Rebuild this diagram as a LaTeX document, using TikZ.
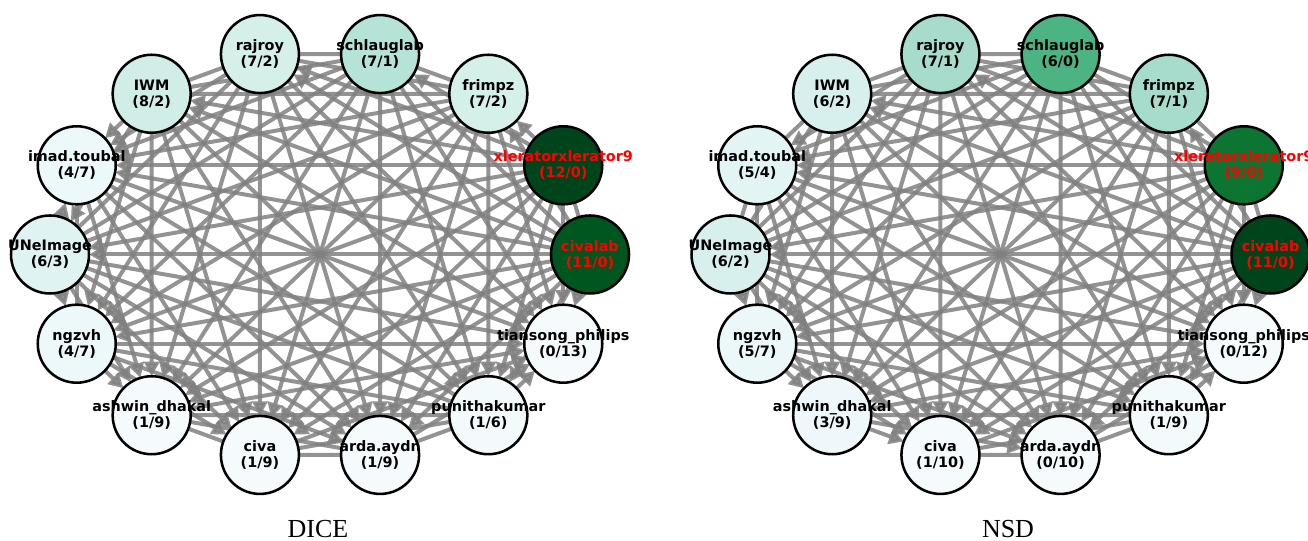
\documentclass[tikz,border=0pt]{standalone}
\usepackage{fontspec}
\setmainfont{Liberation Serif}
\newfontfamily\playerfont{DejaVu Sans}
\usetikzlibrary{arrows.meta,backgrounds}

% node fills (win-count colour scale)
\definecolor{dRaj}{HTML}{D5EFE9}
\definecolor{dSch}{HTML}{B5E3D7}
\definecolor{dFri}{HTML}{D5EFE9}
\definecolor{dXle}{HTML}{00441B}
\definecolor{dCiv}{HTML}{00561F}
\definecolor{dTia}{HTML}{F5FBFD}
\definecolor{dPun}{HTML}{F3FAFC}
\definecolor{dArd}{HTML}{F5FBFD}
\definecolor{dCva}{HTML}{F5FBFD}
\definecolor{dAsh}{HTML}{F5FBFD}
\definecolor{dNgz}{HTML}{ECF8F9}
\definecolor{dUNe}{HTML}{DFF3F3}
\definecolor{dIma}{HTML}{ECF8F9}
\definecolor{dIWM}{HTML}{D0EDE7}

\definecolor{nRaj}{HTML}{A7DCCC}
\definecolor{nSch}{HTML}{4CB382}
\definecolor{nFri}{HTML}{A7DCCC}
\definecolor{nXle}{HTML}{0C7532}
\definecolor{nCiv}{HTML}{00441B}
\definecolor{nTia}{HTML}{F5FBFD}
\definecolor{nPun}{HTML}{F3FAFC}
\definecolor{nArd}{HTML}{F5FBFD}
\definecolor{nCva}{HTML}{F5FBFD}
\definecolor{nAsh}{HTML}{EEF8FA}
\definecolor{nNgz}{HTML}{EBF7F9}
\definecolor{nUNe}{HTML}{D7EFED}
\definecolor{nIma}{HTML}{E3F4F5}
\definecolor{nIWM}{HTML}{D7EFED}

\definecolor{edgegray}{HTML}{808080}
\definecolor{topred}{HTML}{FF0000}

\tikzset{
  player/.style={circle, draw=black, line width=1.9pt, minimum size=58.5pt,
    inner sep=0pt, outer sep=0pt},
  pname/.style={font=\playerfont\bfseries\fontsize{10.8}{12}\selectfont,
    align=center, inner sep=0pt},
  beat/.style={draw=edgegray, line width=3pt, opacity=0.85,
    -{Triangle[length=11pt,width=11.5pt]}},
  draw game/.style={draw=edgegray, line width=3pt, opacity=0.85},
  panel title/.style={font=\fontsize{19.5}{22}\selectfont, anchor=base, inner sep=0pt}
}

% #1 panel prefix, #2 key, #3 centre x, #4 position index, #5 fill, #6 text colour, #7 text
\newcommand\placeplayer[7]{%
  \node[player, fill=#5, label={[pname, text=#6]center:{#7}}] (#1-#2)
    at ({#3+270*cos(#4*360/14)},{286.5+205.6*sin(#4*360/14)}) {};}

\begin{document}
\begin{tikzpicture}[x=0.75pt, y=0.75pt]
\useasboundingbox (0,0) rectangle (1308,541);

% ---------------- DICE ----------------
\placeplayer{dice}{C}{320}{0}{dCiv}{topred}{civalab\\(11/0)}
\placeplayer{dice}{X}{320}{1}{dXle}{topred}{xleratorxlerator9\\(12/0)}
\placeplayer{dice}{F}{320}{2}{dFri}{black}{frimpz\\(7/2)}
\placeplayer{dice}{S}{320}{3}{dSch}{black}{schlauglab\\(7/1)}
\placeplayer{dice}{R}{320}{4}{dRaj}{black}{rajroy\\(7/2)}
\placeplayer{dice}{I}{320}{5}{dIWM}{black}{IWM\\(8/2)}
\placeplayer{dice}{M}{320}{6}{dIma}{black}{imad.toubal\\(4/7)}
\placeplayer{dice}{U}{320}{7}{dUNe}{black}{UNeImage\\(6/3)}
\placeplayer{dice}{N}{320}{8}{dNgz}{black}{ngzvh\\(4/7)}
\placeplayer{dice}{A}{320}{9}{dAsh}{black}{ashwin\_dhakal\\(1/9)}
\placeplayer{dice}{V}{320}{10}{dCva}{black}{civa\\(1/9)}
\placeplayer{dice}{D}{320}{11}{dArd}{black}{arda.aydn\\(1/9)}
\placeplayer{dice}{P}{320}{12}{dPun}{black}{punithakumar\\(1/6)}
\placeplayer{dice}{T}{320}{13}{dTia}{black}{tiansong\_philips\\(0/13)}

% ---------------- NSD ----------------
\placeplayer{nsd}{C}{1000.5}{0}{nCiv}{topred}{civalab\\(11/0)}
\placeplayer{nsd}{X}{1000.5}{1}{nXle}{topred}{xleratorxlerator9\\(9/0)}
\placeplayer{nsd}{F}{1000.5}{2}{nFri}{black}{frimpz\\(7/1)}
\placeplayer{nsd}{S}{1000.5}{3}{nSch}{black}{schlauglab\\(6/0)}
\placeplayer{nsd}{R}{1000.5}{4}{nRaj}{black}{rajroy\\(7/1)}
\placeplayer{nsd}{I}{1000.5}{5}{nIWM}{black}{IWM\\(6/2)}
\placeplayer{nsd}{M}{1000.5}{6}{nIma}{black}{imad.toubal\\(5/4)}
\placeplayer{nsd}{U}{1000.5}{7}{nUNe}{black}{UNeImage\\(6/2)}
\placeplayer{nsd}{N}{1000.5}{8}{nNgz}{black}{ngzvh\\(5/7)}
\placeplayer{nsd}{A}{1000.5}{9}{nAsh}{black}{ashwin\_dhakal\\(3/9)}
\placeplayer{nsd}{V}{1000.5}{10}{nCva}{black}{civa\\(1/10)}
\placeplayer{nsd}{D}{1000.5}{11}{nArd}{black}{arda.aydn\\(0/10)}
\placeplayer{nsd}{P}{1000.5}{12}{nPun}{black}{punithakumar\\(1/9)}
\placeplayer{nsd}{T}{1000.5}{13}{nTia}{black}{tiansong\_philips\\(0/12)}

\begin{pgfonlayer}{background}
  % DICE: winner -> loser
  \foreach \w/\ls in {X/{F,S,R,I,M,U,N,A,V,D,P,T}, C/{F,R,I,M,U,N,A,V,D,P,T},
      I/{M,U,N,A,V,D,P,T}, F/{M,N,A,V,D,P,T}, S/{M,N,A,V,D,P,T},
      R/{M,N,A,V,D,P,T}, U/{M,N,A,V,D,T}, M/{A,V,D,T}, N/{A,V,D,T},
      A/{T}, V/{T}, D/{T}, P/{T}}
    \foreach \l in \ls {\draw[beat] (dice-\w) -- (dice-\l);}
  % DICE: undecided pairings
  \foreach \a/\b in {X/C, C/S, F/S, F/R, F/I, S/R, S/I, R/I, F/U, S/U, R/U,
      P/M, P/U, P/N, P/A, P/V, P/D, M/N, A/V, A/D, V/D}
    {\draw[draw game] (dice-\a) -- (dice-\b);}

  % NSD: winner -> loser
  \foreach \w/\ls in {C/{F,R,I,M,U,N,A,V,D,P,T}, X/{I,M,U,N,A,V,D,P,T},
      S/{N,A,V,D,P,T}, F/{M,N,A,V,D,P,T}, R/{M,N,A,V,D,P,T},
      I/{N,A,V,D,P,T}, U/{N,A,V,D,P,T}, M/{A,V,D,P,T}, N/{A,V,D,P,T},
      A/{V,D,T}, V/{T}, P/{T}}
    \foreach \l in \ls {\draw[beat] (nsd-\w) -- (nsd-\l);}
  % NSD: undecided pairings
  \foreach \a/\b in {C/X, C/S, X/S, X/F, X/R, S/F, S/R, S/I, S/U, S/M, F/R,
      F/I, F/U, R/I, R/U, I/U, I/M, U/M, M/N, A/P, V/D, V/P, D/P, D/T}
    {\draw[draw game] (nsd-\a) -- (nsd-\b);}
\end{pgfonlayer}

% panel titles
\node[panel title] (diceTitle) at (318,3) {DICE};
\node[panel title] (nsdTitle) at (1008,3) {NSD};
\end{tikzpicture}
\end{document}
